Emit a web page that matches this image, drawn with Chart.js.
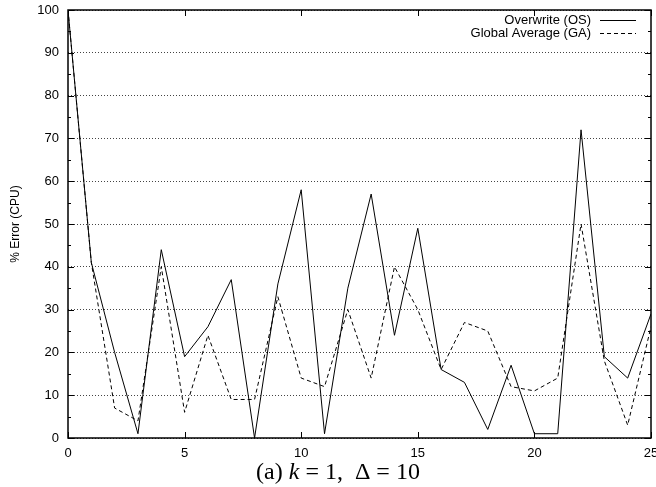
<!DOCTYPE html>
<html>
<head>
<meta charset="utf-8">
<script src="https://cdn.jsdelivr.net/npm/chart.js@4.4.0/dist/chart.umd.min.js"></script>
<style>
  body { margin: 0; background: #fff; }
  canvas { display: block; }
</style>
</head>
<body>
<canvas id="chart" width="656" height="487"></canvas>
<script>
// x positions (k index)
const xs = [0, 1, 2, 3, 4, 5, 6, 7, 8, 9, 10, 11, 12, 13, 14, 15, 16, 17, 18, 19, 20, 21, 22, 23, 24, 25];
// Overwrite (OS)
const osErr = [100, 41, 20, 1, 44, 19, 26, 37, 0, 36, 58, 1, 35, 57, 24, 49, 16, 13, 2, 17, 1, 1, 72, 19, 14, 29];
// Global Average (GA)
const gaErr = [100, 41, 7, 4, 40, 6, 24, 9, 9, 33, 14, 12, 30, 14, 40, 30, 16, 27, 25, 12, 11, 14, 50, 18, 3, 26];

const FONT = '"Liberation Sans", Arial, Helvetica, sans-serif';

// gnuplot style box + inward ticks + legend + caption
const gnuplotLook = {
  id: 'gnuplotLook',
  afterDatasetsDraw(chart) {
    const ctx = chart.ctx;
    const a = chart.chartArea;
    const xs_ = chart.scales.x, ys_ = chart.scales.y;
    ctx.save();
    ctx.strokeStyle = '#000';
    ctx.setLineDash([]);

    // ticks, pointing inwards
    ctx.lineWidth = 1;
    ctx.beginPath();
    for (let v = 0; v <= 100; v += 5) {
      const y = Math.round(ys_.getPixelForValue(v)) + 0.5;
      const len = v % 10 === 0 ? 6 : 3;
      ctx.moveTo(a.left, y); ctx.lineTo(a.left + len, y);
      ctx.moveTo(a.right, y); ctx.lineTo(a.right - len, y);
    }
    for (let v = 0; v <= 25; v += 5) {
      const x = Math.round(xs_.getPixelForValue(v)) + 0.5;
      ctx.moveTo(x, a.bottom); ctx.lineTo(x, a.bottom - 6);
      ctx.moveTo(x, a.top); ctx.lineTo(x, a.top + 6);
    }
    ctx.stroke();

    // frame
    ctx.lineWidth = 1.5;
    ctx.strokeRect(a.left, a.top, a.right - a.left, a.bottom - a.top);

    // key
    ctx.font = '13px ' + FONT;
    ctx.fillStyle = '#000';
    ctx.textAlign = 'right';
    ctx.textBaseline = 'middle';
    const textRight = 591;
    chart.data.datasets.forEach((ds, i) => {
      const y = 20 + i * 13;
      ctx.fillText(ds.label, textRight, y);
      ctx.lineWidth = 1;
      ctx.setLineDash(ds.borderDash || []);
      ctx.beginPath();
      ctx.moveTo(600, y + 0.5);
      ctx.lineTo(636, y + 0.5);
      ctx.stroke();
      ctx.setLineDash([]);
    });

    // caption under the plot: (a) k = 1,  Δ = 10
    const parts = [
      ['(a) ', 'normal'],
      ['k', 'italic'],
      [' = 1,  \u0394 = 10', 'normal']
    ];
    const size = 24;
    let total = 0;
    parts.forEach(p => {
      ctx.font = p[1] + ' ' + size + 'px "Liberation Serif", "Times New Roman", serif';
      total += ctx.measureText(p[0]).width;
    });
    let cx = 338 - total / 2;
    ctx.textAlign = 'left';
    ctx.textBaseline = 'alphabetic';
    parts.forEach(p => {
      ctx.font = p[1] + ' ' + size + 'px "Liberation Serif", "Times New Roman", serif';
      ctx.fillText(p[0], cx, 479);
      cx += ctx.measureText(p[0]).width;
    });
    ctx.restore();
  }
};

new Chart(document.getElementById('chart'), {
  type: 'line',
  data: {
    datasets: [
      {
        label: 'Overwrite (OS)',
        data: xs.map((x, i) => ({ x: x, y: osErr[i] })),
        borderColor: '#000',
        borderWidth: 1,
        pointRadius: 0,
        tension: 0,
        fill: false
      },
      {
        label: 'Global Average (GA)',
        data: xs.map((x, i) => ({ x: x, y: gaErr[i] })),
        borderColor: '#000',
        borderWidth: 1,
        borderDash: [4, 3],
        pointRadius: 0,
        tension: 0,
        fill: false
      }
    ]
  },
  options: {
    responsive: false,
    animation: false,
    layout: { padding: { top: 10, right: 5, left: 0, bottom: 0 } },
    plugins: {
      legend: { display: false },
      tooltip: { enabled: false }
    },
    scales: {
      x: {
        type: 'linear',
        min: 0,
        max: 25,
        ticks: {
          stepSize: 5,
          color: '#000',
          padding: 8,
          maxRotation: 0,
          font: { family: FONT, size: 13 }
        },
        grid: { display: false, drawTicks: false },
        border: { display: false },
        afterFit(scale) {
          scale.height = 49;
          scale.paddingLeft = 0;
          scale.paddingRight = 0;
        }
      },
      y: {
        min: 0,
        max: 100,
        ticks: {
          stepSize: 10,
          color: '#000',
          padding: 9,
          font: { family: FONT, size: 13 }
        },
        grid: { color: '#444', lineWidth: 1, drawTicks: false },
        border: { display: false, dash: [1, 2] },
        title: {
          display: true,
          text: '% Error (CPU)',
          color: '#000',
          font: { family: FONT, size: 12 },
          padding: { top: 8, bottom: 0 }
        },
        afterFit(scale) {
          scale.width = 68;
          scale.paddingTop = 0;
          scale.paddingBottom = 0;
        }
      }
    }
  },
  plugins: [gnuplotLook]
});
</script>
</body>
</html>
